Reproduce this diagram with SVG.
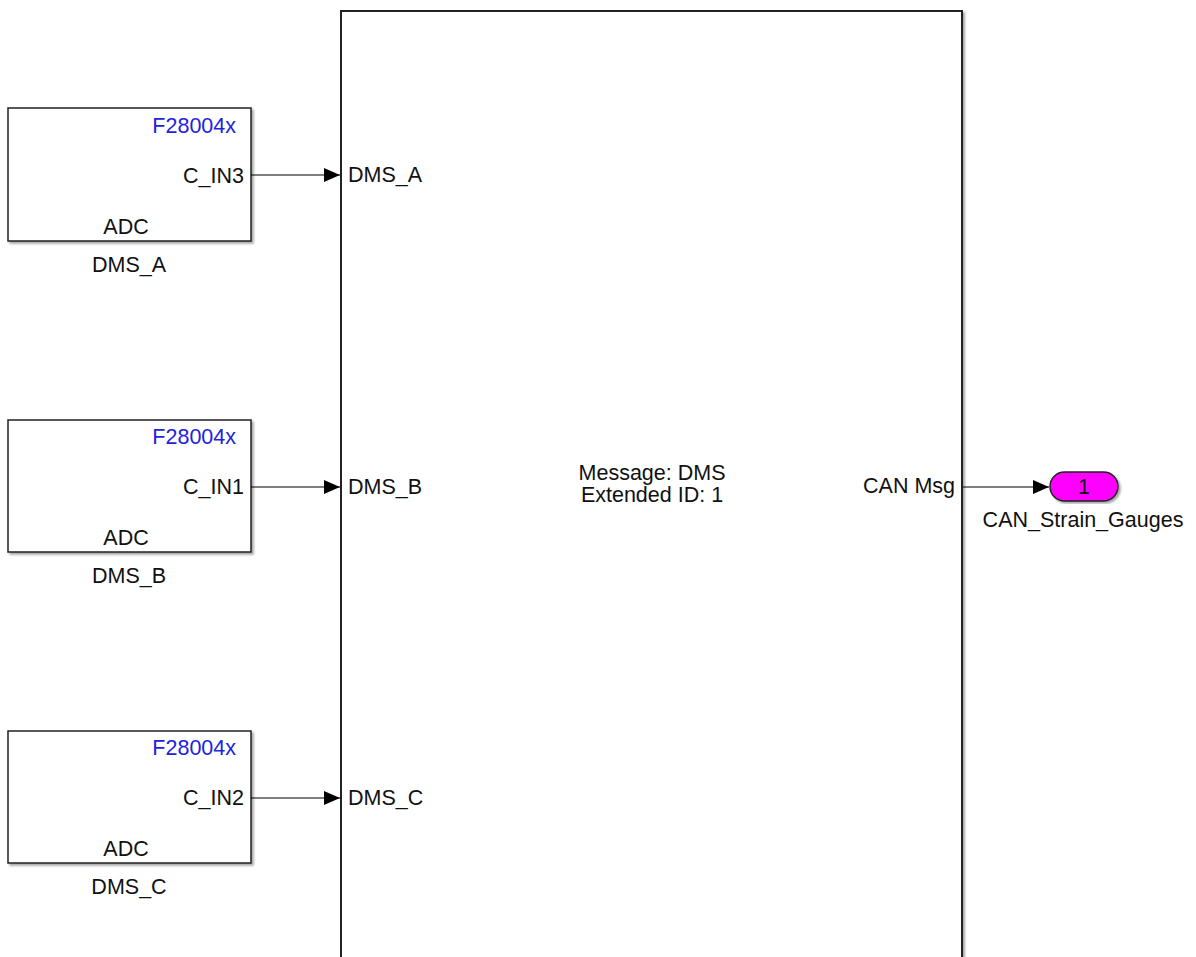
<svg xmlns="http://www.w3.org/2000/svg" width="1196" height="957" viewBox="0 0 1196 957">
<style>
text{font-family:"Liberation Sans",Arial,sans-serif;font-size:21.5px;fill:#111}
.blk{fill:#fff;stroke:#222;stroke-width:1.5}
.blue{fill:#2222dd}
.r{text-anchor:end}
.m{text-anchor:middle}
.ln{stroke:#000;stroke-width:1.2;fill:none}
</style>
<defs>
<marker id="ah" markerWidth="16" markerHeight="14" refX="16" refY="7" orient="auto" markerUnits="userSpaceOnUse">
<path d="M0,0 L16,7 L0,14 Z" fill="#000"/>
</marker>
<filter id="ds" x="-5%" y="-5%" width="115%" height="115%">
<feDropShadow dx="2" dy="2" stdDeviation="1.2" flood-color="#000" flood-opacity="0.35"/>
</filter>
</defs>
<rect width="1196" height="957" fill="#fff"/>
<g id="main">
<rect x="341" y="11" width="621" height="960" fill="#fff" stroke="#222" stroke-width="2" filter="url(#ds)"/>
<text x="348" y="182">DMS_A</text>
<text x="348" y="494">DMS_B</text>
<text x="348" y="805">DMS_C</text>
<text x="652" y="480" class="m">Message: DMS</text>
<text x="652" y="502" class="m">Extended ID: 1</text>
<text x="955" y="493" class="r">CAN Msg</text>
</g>
<g id="adcA">
<rect x="8" y="108" width="243" height="133" class="blk" filter="url(#ds)"/>
<text x="236" y="133" class="r blue">F28004x</text>
<text x="244" y="183" class="r">C_IN3</text>
<text x="126" y="234" class="m">ADC</text>
<text x="129" y="272" class="m">DMS_A</text>
</g>
<g id="adcB">
<rect x="8" y="420" width="243" height="132" class="blk" filter="url(#ds)"/>
<text x="236" y="444" class="r blue">F28004x</text>
<text x="244" y="494" class="r">C_IN1</text>
<text x="126" y="545" class="m">ADC</text>
<text x="129" y="583" class="m">DMS_B</text>
</g>
<g id="adcC">
<rect x="8" y="731" width="243" height="132" class="blk" filter="url(#ds)"/>
<text x="236" y="755" class="r blue">F28004x</text>
<text x="244" y="805" class="r">C_IN2</text>
<text x="126" y="856" class="m">ADC</text>
<text x="129" y="894" class="m">DMS_C</text>
</g>
<g id="outport">
<rect x="1050" y="472" width="68" height="29" rx="14.5" ry="14.5" fill="#ff00ff" stroke="#222" stroke-width="1.5" filter="url(#ds)"/>
<text x="1084" y="494" class="m">1</text>
<text x="1083" y="527" class="m">CAN_Strain_Gauges</text>
</g>
<g id="connectors">
<line x1="251" y1="175" x2="340" y2="175" class="ln" marker-end="url(#ah)"/>
<line x1="251" y1="487" x2="340" y2="487" class="ln" marker-end="url(#ah)"/>
<line x1="251" y1="798" x2="340" y2="798" class="ln" marker-end="url(#ah)"/>
<line x1="963" y1="487" x2="1049" y2="487" class="ln" marker-end="url(#ah)"/>
</g>
</svg>
